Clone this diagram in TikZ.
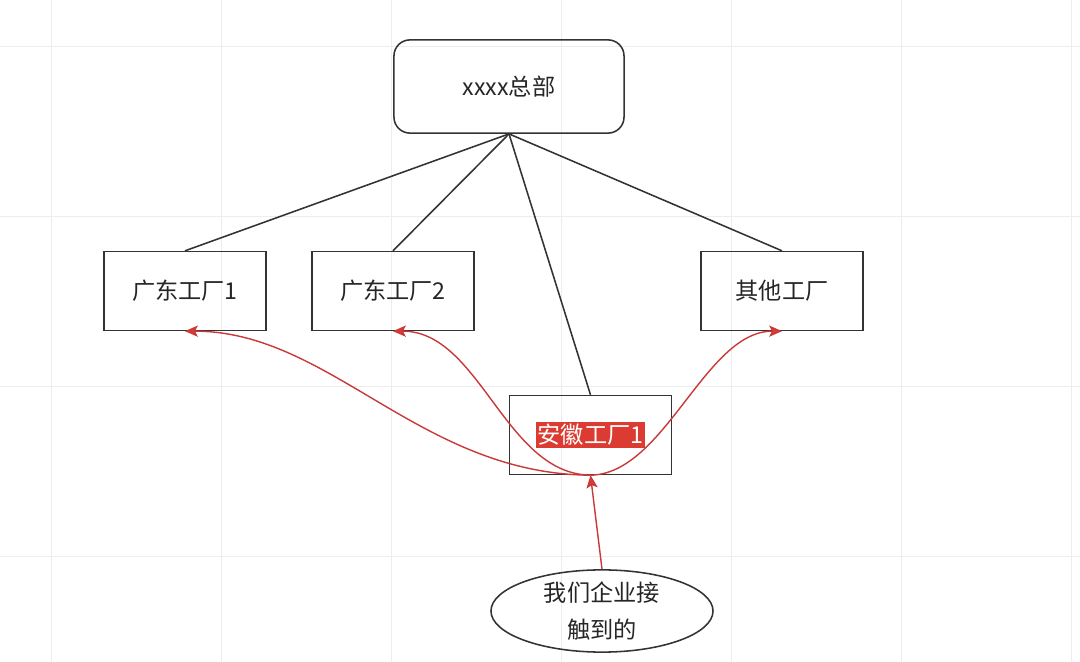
\documentclass[tikz,border=0pt]{standalone}
\usepackage{fontspec}
\setmainfont{Noto Sans CJK SC}
\usetikzlibrary{arrows.meta,shapes.geometric}
\definecolor{gridc}{HTML}{EDEDED}
\definecolor{edgec}{HTML}{333333}
\definecolor{redc}{HTML}{C83A3A}
\definecolor{hlred}{HTML}{DC3B32}
\begin{document}
\begin{tikzpicture}[x=0.025cm,y=-0.025cm,
  every node/.style={font=\fontsize{16.5pt}{20pt}\selectfont, text=black!85},
  boxstyle/.style={draw=edgec, line width=1.1pt, rectangle, inner sep=0pt, minimum width=4.05cm, minimum height=1.97cm},
  hqstyle/.style={draw=edgec, line width=1.1pt, rectangle, rounded corners=0.4cm, inner sep=0pt, minimum width=5.75cm, minimum height=2.33cm},
  ellstyle/.style={draw=edgec, line width=1.1pt, ellipse, inner sep=0pt, minimum width=5.55cm, minimum height=2.02cm, align=center, font=\fontsize{16.5pt}{26pt}\selectfont},
  treeline/.style={draw=edgec, line width=1.1pt},
  redarrow/.style={draw=redc, line width=1pt, -{Stealth[length=3.2mm,width=2.8mm,inset=0.7mm,fill=hlred]}}
]
\useasboundingbox (0,0) rectangle (1080,662);
\fill[white] (0,0) rectangle (1080,662);
\foreach \gx in {51,221,391,561,731,901,1071} \draw[gridc, line width=0.6pt] (\gx,0) -- (\gx,662);
\foreach \gy in {46,216,386,556} \draw[gridc, line width=0.6pt] (0,\gy) -- (1080,\gy);

\node[hqstyle] (hq) at (509,86.5) {xxxx总部};
\node[boxstyle] (gd1) at (185,291) {广东工厂1};
\node[boxstyle] (gd2) at (393,291) {广东工厂2};
\node[boxstyle] (qt) at (782,291) {其他工厂};
\node[boxstyle] (ah) at (590.5,435) {{\fboxsep=1.5pt\colorbox{hlred}{\color{white}安徽工厂1}}};
\node[ellstyle] (el) at (602,611) {我们企业接\\触到的};

\draw[treeline] (hq.south) -- (gd1.north);
\draw[treeline] (hq.south) -- (gd2.north);
\draw[treeline] (hq.south) -- (ah.north);
\draw[treeline] (hq.south) -- (qt.north);

\draw[redarrow] (ah.south) .. controls (420,474) and (330,331) .. (gd1.south);
\draw[redarrow] (ah.south) .. controls (505,474) and (480,331) .. (gd2.south);
\draw[redarrow] (ah.south) .. controls (665,474) and (705,331) .. (qt.south);
\draw[redarrow] (el.north) -- (ah.south);
\end{tikzpicture}
\end{document}
